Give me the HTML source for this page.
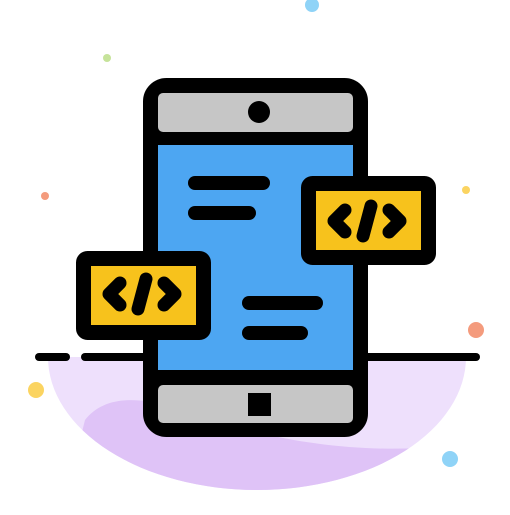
<!DOCTYPE html>
<html><head><style>html,body{margin:0;padding:0;background:#fff;width:510px;height:515px;overflow:hidden}</style></head>
<body>
<svg width="510" height="515" viewBox="0 0 510 515" xmlns="http://www.w3.org/2000/svg">
<defs><clipPath id="c"><path d="M48 357 L466 357 A209 133 0 0 1 48 357 Z"/></clipPath></defs>
<path d="M48 357 L466 357 A209 133 0 0 1 48 357 Z" fill="#eee0fc"/>
<g clip-path="url(#c)"><path d="M85 420 C105 395 140 395 190 412 C260 438 340 452 420 448 L440 520 L60 520 Z" fill="#dfc3f7"/></g>
<g stroke="#000" stroke-width="8" stroke-linecap="round">
<line x1="39" y1="357" x2="66" y2="357"/><line x1="85" y1="357" x2="150" y2="357"/><line x1="360" y1="357" x2="476" y2="357"/>
</g>
<rect x="150.5" y="85.5" width="210" height="344" rx="16" fill="#000" stroke="#000" stroke-width="15"/>
<rect x="158" y="93" width="195" height="39" rx="5" fill="#c6c6c6"/>
<rect x="158" y="145" width="195" height="225" fill="#4da6f2"/>
<rect x="158" y="385" width="195" height="38" rx="5" fill="#c6c6c6"/>
<circle cx="259" cy="112" r="11" fill="#000"/>
<rect x="248" y="393" width="23" height="23" fill="#000"/>
<g stroke="#000" stroke-width="14" stroke-linecap="round">
<line x1="195" y1="183" x2="263" y2="183"/><line x1="195" y1="213" x2="249" y2="213"/>
<line x1="249" y1="303" x2="316" y2="303"/><line x1="249" y1="333" x2="301" y2="333"/>
</g>
<rect x="308.5" y="183.5" width="120" height="74" rx="4" fill="#f7c21c" stroke="#000" stroke-width="15"/>
<rect x="83.5" y="258.5" width="120" height="74" rx="4" fill="#f7c21c" stroke="#000" stroke-width="15"/>
<g fill="none" stroke="#000" stroke-width="13" stroke-linecap="round" stroke-linejoin="round">
<path d="M345 210 L334 221 L345 232"/><path d="M371 206 L363 236"/><path d="M389 210 L400 221 L389 232"/>
<path d="M120 283 L109 294 L120 305"/><path d="M146 279 L138 309"/><path d="M164 283 L175 294 L164 305"/>
</g>
<circle cx="312" cy="5" r="7" fill="#8fd3f7"/>
<circle cx="107" cy="58" r="4" fill="#c6e39a"/>
<circle cx="45" cy="196" r="4" fill="#f49b7d"/>
<circle cx="466" cy="190" r="4" fill="#fbd461"/>
<circle cx="476" cy="330" r="8" fill="#f49b7d"/>
<circle cx="36" cy="390" r="8" fill="#fbd461"/>
<circle cx="450" cy="459" r="8" fill="#8fd3f7"/>
</svg>
</body></html>
